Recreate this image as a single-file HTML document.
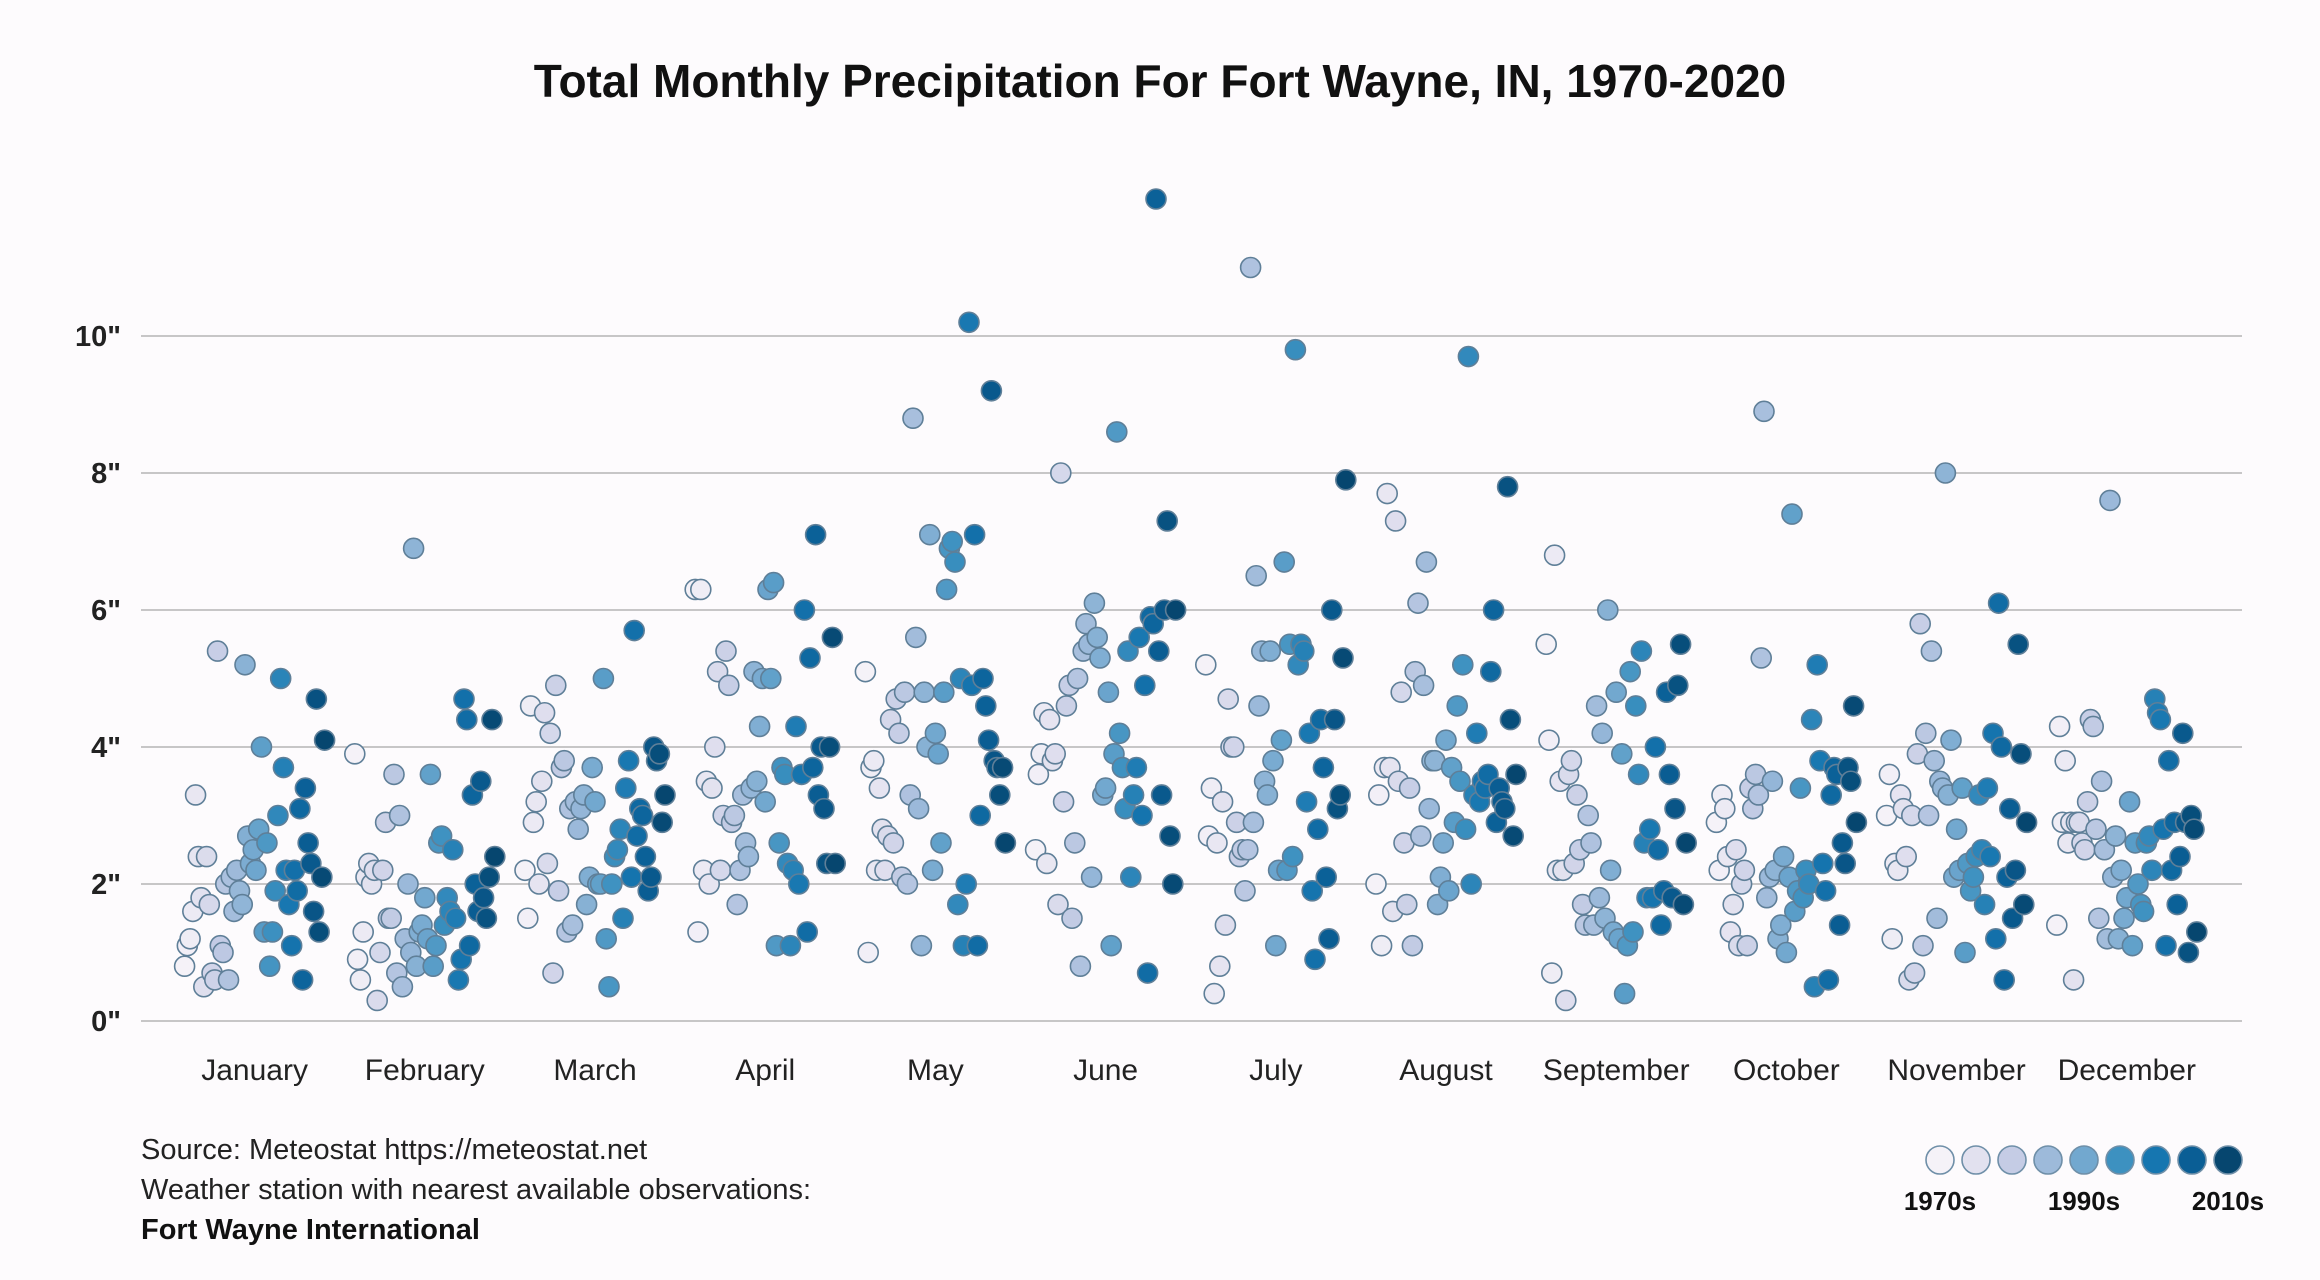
<!DOCTYPE html>
<html><head><meta charset="utf-8">
<style>
html,body{margin:0;padding:0;background:#fdfbfd;}
svg{display:block;font-family:"Liberation Sans",sans-serif;}
</style></head>
<body>
<svg id="chart" width="2320" height="1280" viewBox="0 0 2320 1280" xmlns="http://www.w3.org/2000/svg">
<rect width="2320" height="1280" fill="#fdfbfd"/>
<text x="1160" y="97" text-anchor="middle" font-size="46" font-weight="bold" fill="#111">Total Monthly Precipitation For Fort Wayne, IN, 1970-2020</text>
<g id="grid"></g>
<g id="ylabels"></g>
<g id="xlabels"></g>
<g id="points"></g>
<g font-size="29" fill="#222">
<text x="141" y="1159">Source: Meteostat https://meteostat.net</text>
<text x="141" y="1199">Weather station with nearest available observations:</text>
<text x="141" y="1239" font-weight="bold" fill="#111">Fort Wayne International</text>
</g>
<g id="legend"></g>
</svg>
<script>
const months = ["January","February","March","April","May","June","July","August","September","October","November","December"];
const yTicks = [0,2,4,6,8,10];
const yTickLabels = ['0"','2"','4"','6"','8"','10"'];
const legendLabels = ["1970s","1990s","2010s"];
const jan = [0.8,1.1,1.2,1.6,3.3,2.4,1.8,0.5,2.4,1.7,0.7,0.6,5.4,1.1,1.0,2.0,0.6,2.1,1.6,2.2,1.9,1.7,5.2,2.7,2.3,2.5,2.2,2.8,4.0,1.3,2.6,0.8,1.3,1.9,3.0,5.0,3.7,2.2,1.7,1.1,2.2,1.9,3.1,0.6,3.4,2.6,2.3,1.6,4.7,1.3,2.1,4.1];
const feb = [3.9,0.9,0.6,1.3,2.1,2.3,2.0,2.2,0.3,1.0,2.2,2.9,1.5,1.5,3.6,0.7,3.0,0.5,1.2,2.0,1.0,6.9,0.8,1.3,1.4,1.8,1.2,3.6,0.8,1.1,2.6,2.7,1.4,1.8,1.6,2.5,1.5,0.6,0.9,4.7,4.4,1.1,3.3,2.0,1.6,3.5,1.8,1.5,2.1,4.4,2.4];
const mar = [2.2,1.5,4.6,2.9,3.2,2.0,3.5,4.5,2.3,4.2,0.7,4.9,1.9,3.7,3.8,1.3,3.1,1.4,3.2,2.8,3.1,3.3,1.7,2.1,3.7,3.2,2.0,2.0,5.0,1.2,0.5,2.0,2.4,2.5,2.8,1.5,3.4,3.8,2.1,5.7,2.7,3.1,3.0,2.4,1.9,2.1,4.0,3.8,3.9,2.9,3.3];
const apr = [6.3,1.3,6.3,2.2,3.5,2.0,3.4,4.0,5.1,2.2,3.0,5.4,4.9,2.9,3.0,1.7,2.2,3.3,2.6,2.4,3.4,5.1,3.5,4.3,5.0,3.2,6.3,5.0,6.4,1.1,2.6,3.7,3.6,2.3,1.1,2.2,4.3,2.0,3.6,6.0,1.3,5.3,3.7,7.1,3.3,4.0,3.1,2.3,4.0,5.6,2.3];
const may = [5.1,1.0,3.7,3.8,2.2,3.4,2.8,2.2,2.7,4.4,2.6,4.7,4.2,2.1,4.8,2.0,3.3,8.8,5.6,3.1,1.1,4.8,4.0,7.1,2.2,4.2,3.9,2.6,4.8,6.3,6.9,7.0,6.7,1.7,5.0,1.1,2.0,10.2,4.9,7.1,1.1,3.0,5.0,4.6,4.1,9.2,3.8,3.7,3.3,3.7,2.6];
const jun = [2.5,3.6,3.9,4.5,2.3,4.4,3.8,3.9,1.7,8.0,3.2,4.6,4.9,1.5,2.6,5.0,0.8,5.4,5.8,5.5,2.1,6.1,5.6,5.3,3.3,3.4,4.8,1.1,3.9,8.6,4.2,3.7,3.1,5.4,2.1,3.3,3.7,5.6,3.0,4.9,0.7,5.9,5.8,12.0,5.4,3.3,6.0,7.3,2.7,2.0,6.0];
const jul = [5.2,2.7,3.4,0.4,2.6,0.8,3.2,1.4,4.7,4.0,4.0,2.9,2.4,2.5,1.9,2.5,11.0,2.9,6.5,4.6,5.4,3.5,3.3,5.4,3.8,1.1,2.2,4.1,6.7,2.2,5.5,2.4,9.8,5.2,5.5,5.4,3.2,4.2,1.9,0.9,2.8,4.4,3.7,2.1,1.2,6.0,4.4,3.1,3.3,5.3,7.9];
const aug = [2.0,3.3,1.1,3.7,7.7,3.7,1.6,7.3,3.5,4.8,2.6,1.7,3.4,1.1,5.1,6.1,2.7,4.9,6.7,3.1,3.8,3.8,1.7,2.1,2.6,4.1,1.9,3.7,2.9,4.6,3.5,5.2,2.8,9.7,2.0,3.3,4.2,3.2,3.5,3.4,3.6,5.1,6.0,2.9,3.4,3.2,3.1,7.8,4.4,2.7,3.6];
const sep = [5.5,4.1,0.7,6.8,2.2,3.5,2.2,0.3,3.6,3.8,2.3,3.3,2.5,1.7,1.4,3.0,2.6,1.4,4.6,1.8,4.2,1.5,6.0,2.2,1.3,4.8,1.2,3.9,0.4,1.1,5.1,1.3,4.6,3.6,5.4,2.6,1.8,2.8,1.8,4.0,2.5,1.4,1.9,4.8,3.6,1.8,3.1,4.9,5.5,1.7,2.6];
const oct = [2.9,2.2,3.3,3.1,2.4,1.3,1.7,2.5,1.1,2.0,2.2,1.1,3.4,3.1,3.6,3.3,5.3,8.9,1.8,2.1,3.5,2.2,1.2,1.4,2.4,1.0,2.1,7.4,1.6,1.9,3.4,1.8,2.2,2.0,4.4,0.5,5.2,3.8,2.3,1.9,0.6,3.3,3.7,3.6,1.4,2.6,2.3,3.7,3.5,4.6,2.9];
const nov = [3.0,3.6,1.2,2.3,2.2,3.3,3.1,2.4,0.6,3.0,0.7,3.9,5.8,1.1,4.2,3.0,5.4,3.8,1.5,3.5,3.4,8.0,3.3,4.1,2.1,2.8,2.2,3.4,1.0,2.3,1.9,2.1,2.4,3.3,2.5,1.7,3.4,2.4,4.2,1.2,6.1,4.0,0.6,2.1,3.1,1.5,2.2,5.5,3.9,1.7,2.9];
const dec = [1.4,4.3,2.9,3.8,2.6,2.9,0.6,2.9,2.9,2.6,2.5,3.2,4.4,4.3,2.8,1.5,3.5,2.5,1.2,7.6,2.1,2.7,1.2,2.2,1.5,1.8,3.2,1.1,2.6,2.0,1.7,1.6,2.6,2.7,2.2,4.7,4.5,4.4,2.8,1.1,3.8,2.2,2.9,1.7,2.4,4.2,2.9,1.0,3.0,2.8,1.3];
const series = [jan,feb,mar,apr,may,jun,jul,aug,sep,oct,nov,dec];
const palette = ["#f5f2f8","#e2e1ef","#c5cce5","#9dbada","#72a8cf","#3d91c0","#1676b0","#0a5e95","#06466f"];

const NS = "http://www.w3.org/2000/svg";
const X0 = 141, X1 = 2242, Y0 = 1021, PX_PER_IN = 68.5;
const yScale = v => Y0 - v * PX_PER_IN;
const xScale = (m, frac) => 254.6 + m * 170.2 + (frac - 0.5) * 140;
function hex2rgb(h){return [1,3,5].map(i=>parseInt(h.substr(i,2),16));}
function colorAt(t){
  const p = t * (palette.length - 1);
  const i = Math.min(Math.floor(p), palette.length - 2);
  const f = p - i;
  const a = hex2rgb(palette[i]), b = hex2rgb(palette[i+1]);
  return "rgb(" + a.map((c,k)=>Math.round(c + (b[k]-c)*f)).join(",") + ")";
}
function mk(tag, attrs, parent){
  const e = document.createElementNS(NS, tag);
  for (const k in attrs) e.setAttribute(k, attrs[k]);
  parent.appendChild(e);
  return e;
}
const grid = document.getElementById("grid");
const yl = document.getElementById("ylabels");
yTicks.forEach((t, i) => {
  const ln = mk("line", {x1:X0, x2:X1, y1:yScale(t), y2:yScale(t), stroke:"#b5b5b5", "stroke-width":1.5}, grid);
  
  
  const tx = mk("text", {x:121, y:yScale(t)+10, "text-anchor":"end", "font-size":29, "font-weight":"bold", fill:"#222"}, yl);
  tx.textContent = yTickLabels[i];
  
  
});
const xl = document.getElementById("xlabels");
months.forEach((m, i) => {
  const tx = mk("text", {x:xScale(i,0.5), y:1080, "text-anchor":"middle", "font-size":30, fill:"#222"}, xl);
  tx.textContent = m;
  
  
});
const pts = document.getElementById("points");
series.forEach((arr, m) => {
  const n = arr.length;
  arr.forEach((v, j) => {
    const frac = n > 1 ? j / (n - 1) : 0.5;
    const c = mk("circle", {cx:xScale(m, frac), cy:yScale(v), r:10, fill:colorAt(frac), stroke:"#5f7f98", "stroke-width":1.6}, pts);
    
    
  });
});
const lg = document.getElementById("legend");
palette.forEach((col, i) => {
  const c = mk("circle", {cx:1940 + i*36, cy:1160, r:14, fill:col, stroke:"#6f8fa8", "stroke-width":1.6}, lg);
  
  
});
legendLabels.forEach((t, i) => {
  const tx = mk("text", {x:1940 + i*144, y:1210, "text-anchor":"middle", "font-size":26, "font-weight":"bold", fill:"#111"}, lg);
  tx.textContent = t;
  
  
});
</script>
</body></html>
